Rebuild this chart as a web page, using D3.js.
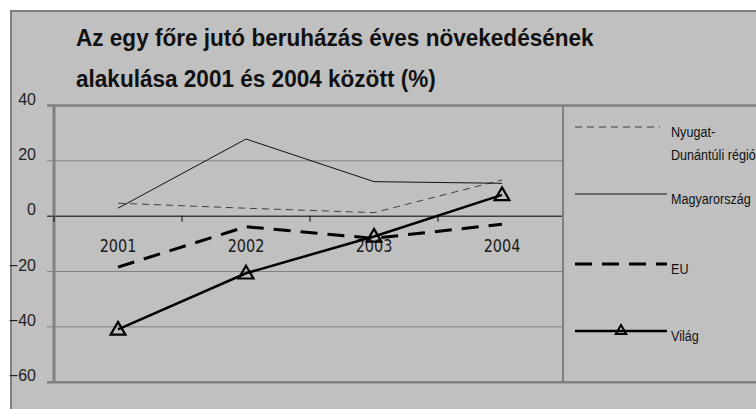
<!DOCTYPE html>
<html>
<head>
<meta charset="utf-8">
<script src="https://cdn.jsdelivr.net/npm/d3@7"></script>
<style>
  body { margin: 0; background: #fff; }
  svg { display: block; }
</style>
</head>
<body>
<div id="chart"></div>
<script>
// chart data
var years = ["2001", "2002", "2003", "2004"];
var nyugat = [4.5, 2.7, 1.1, 12.9];
var magyar = [2.7, 27.7, 12.3, 11.7];
var eu = [-18.6, -4.0, -8.2, -3.1];
var vilag = [-41.1, -20.8, -7.5, 7.5];
var yTicks = [40, 20, 0, -20, -40, -60];
var titleLines = ["Az egy főre jutó beruházás éves növekedésének",
                  "alakulása 2001 és 2004 között (%)"];
var seriesNames = [["Nyugat-", "Dunántúli régió"], ["Magyarország"], ["EU"], ["Világ"]];

var W = 756, H = 409;
var plot = {left: 54, right: 566, top: 105, bottom: 381.7};
var legendLeft = 563;

var svg = d3.select("#chart").append("svg")
    .attr("width", W)
    .attr("height", H)
    .style("font-family", "'Liberation Sans', Arial, sans-serif");

// outer chart frame
svg.append("rect")
    .attr("x", 11).attr("y", 11)
    .attr("width", W + 20).attr("height", H + 20)
    .attr("fill", "#c0c0c0")
    .attr("stroke", "#808080")
    .attr("stroke-width", 2);

var x = d3.scaleBand().domain(years).range([plot.left, plot.right]).padding(0);
var y = d3.scaleLinear().domain([-60, 40]).range([plot.bottom, plot.top]);

// title
titleLines.forEach(function (t, i) {
    svg.append("text")
        .attr("transform", "translate(76," + (46 + i * 41) + ") scale(0.94,1)")
        .style("font-size", "24px")
        .style("font-weight", "bold")
        .attr("fill", "#111")
        .text(t);
});

// y axis with gridlines
var yAxis = d3.axisLeft(y)
    .tickValues(yTicks)
    .tickSizeInner(-(legendLeft - 47))
    .tickSizeOuter(0)
    .tickPadding(11)
    .tickFormat(d3.format("d"));

var gy = svg.append("g")
    .attr("transform", "translate(47,0)")
    .call(yAxis);
gy.select(".domain").remove();
gy.selectAll(".tick line")
    .attr("stroke", function (d) { return d === 0 ? "#000" : "#808080"; })
    .attr("stroke-width", function (d) { return (d === 40 || d === -60) ? 2.5 : 1; })
    .attr("x2", function (d) { return (d === 40 || d === -60) ? W : (legendLeft - 47); });
gy.selectAll(".tick text")
    .attr("dy", "-0.05em")
    .style("font-size", "16px")
    .attr("fill", "#222");

// vertical value axis line
svg.append("line")
    .attr("x1", plot.left).attr("x2", plot.left)
    .attr("y1", y(40)).attr("y2", y(-60))
    .attr("stroke", "#808080")
    .attr("stroke-width", 3);

// legend box left edge
svg.append("line")
    .attr("x1", legendLeft).attr("x2", legendLeft)
    .attr("y1", y(40)).attr("y2", y(-60))
    .attr("stroke", "#808080")
    .attr("stroke-width", 2);

// category ticks at band boundaries on the zero line
svg.selectAll(".cat-tick").data(years)
    .enter().append("line")
    .attr("class", "cat-tick")
    .attr("x1", function (d) { return x(d); })
    .attr("x2", function (d) { return x(d); })
    .attr("y1", y(0)).attr("y2", y(0) + 6)
    .attr("stroke", "#000");

// category labels
var xAxis = d3.axisBottom(x).tickSize(0);
var gx = svg.append("g")
    .attr("transform", "translate(0," + y(0) + ")")
    .call(xAxis);
gx.select(".domain").remove();
gx.selectAll(".tick text")
    .attr("y", 36).attr("dy", 0)
    .attr("transform", "scale(0.8,1)")
    .style("font-family", "'DejaVu Sans', sans-serif")
    .style("font-size", "18px")
    .attr("fill", "#1a1a1a");

var cx = function (d, i) { return x(years[i]) + x.bandwidth() / 2; };
var line = d3.line().x(cx).y(function (d) { return y(d); });

var styles = [
    {data: nyugat, stroke: "#404040", width: 1, dash: "7,5"},
    {data: magyar, stroke: "#111", width: 1, dash: null},
    {data: eu, stroke: "#000", width: 3, dash: "17,10"},
    {data: vilag, stroke: "#000", width: 2.5, dash: null, marker: true}
];

styles.forEach(function (s) {
    svg.append("path")
        .datum(s.data)
        .attr("d", line)
        .attr("fill", "none")
        .attr("stroke", s.stroke)
        .attr("stroke-width", s.width)
        .attr("stroke-dasharray", s.dash);
    if (s.marker) {
        svg.selectAll(".mk").data(s.data)
            .enter().append("path")
            .attr("class", "mk")
            .attr("d", d3.symbol().type(d3.symbolTriangle).size(95))
            .attr("transform", function (d, i) { return "translate(" + cx(d, i) + "," + (y(d) + 1) + ")"; })
            .attr("fill", "none")
            .attr("stroke", "#000")
            .attr("stroke-width", 2.2);
    }
});

// legend
var legendRows = [127, 194, 264, 331];
styles.forEach(function (s, i) {
    var ly = legendRows[i];
    svg.append("line")
        .attr("x1", 575).attr("x2", i === 0 ? 660 : 667)
        .attr("y1", ly).attr("y2", ly)
        .attr("stroke", s.stroke)
        .attr("stroke-width", s.width)
        .attr("stroke-dasharray", s.dash);
    if (s.marker) {
        svg.append("path")
            .attr("d", d3.symbol().type(d3.symbolTriangle).size(48))
            .attr("transform", "translate(621," + ly + ")")
            .attr("fill", "none")
            .attr("stroke", "#000")
            .attr("stroke-width", 2);
    }
    seriesNames[i].forEach(function (t, j) {
        svg.append("text")
            .attr("transform", "translate(671," + (ly + 9.5 + j * 23) + ") scale(0.84,1)")
            .style("font-size", "15px")
            .attr("fill", "#111")
            .text(t);
    });
});
</script>
</body>
</html>
